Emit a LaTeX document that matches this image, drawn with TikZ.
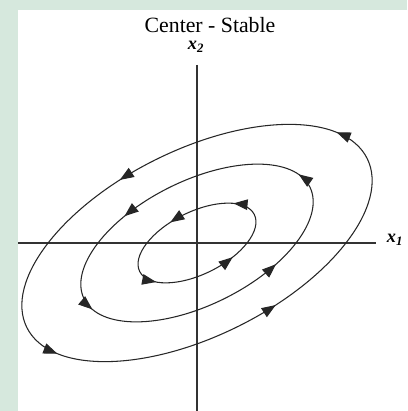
\documentclass[tikz,border=0pt]{standalone}
\usepackage{fontspec}
\setmainfont{Liberation Serif}
\usetikzlibrary{arrows.meta, decorations.markings}
\definecolor{panelgreen}{RGB}{214,232,221}
\tikzstyle{axis} = [line width=0.9pt, draw=black!80]
\tikzstyle{orbit} = [line width=0.75pt, draw=black!85]
\tikzstyle{axislabel} = [font=\rmfamily\fontsize{13}{15}\selectfont\bfseries\itshape, inner sep=0pt]
\tikzset{flow/.style n args={4}{postaction={decorate}, decoration={markings,
  mark=at position #1 with {\arrow{Triangle[length=10pt, width=7.5pt]}},
  mark=at position #2 with {\arrow{Triangle[length=10pt, width=7.5pt]}},
  mark=at position #3 with {\arrow{Triangle[length=10pt, width=7.5pt]}},
  mark=at position #4 with {\arrow{Triangle[length=10pt, width=7.5pt]}}}}}

\begin{document}
\begin{tikzpicture}

% Frame
\useasboundingbox (-4.925,-4.2) rectangle (5.25,6.075);
\fill [panelgreen] (-4.925,-4.2) rectangle (5.25,6.075);
\fill [white] (-4.475,-4.2) rectangle (5.25,5.825);

% Axes
\coordinate (origin) at (0,0);
\draw [axis] (-4.475,0) -- (4.475,0);
\draw [axis] (0,4.45) -- (0,-4.2);

% Orbits
\draw [orbit, rotate=26.4, flow={0.045}{0.295}{0.545}{0.797}] (origin) ellipse (4.75 and 2.325);
\draw [orbit, rotate=26.4, flow={0.028}{0.338}{0.522}{0.852}] (origin) ellipse (3.15 and 1.55);
\draw [orbit, rotate=26.4, flow={0.08}{0.298}{0.566}{0.834}] (origin) ellipse (1.6 and 0.78);

% Labels
\node (title) [font=\rmfamily\fontsize{15.5}{18}\selectfont] at (0.325,5.45) {Center - Stable};
\node (xtwo) [axislabel] at (-0.025,4.9) {x\textsubscript{2}};
\node (xone) [axislabel] at (4.95,0.075) {x\textsubscript{1}};

\end{tikzpicture}
\end{document}
